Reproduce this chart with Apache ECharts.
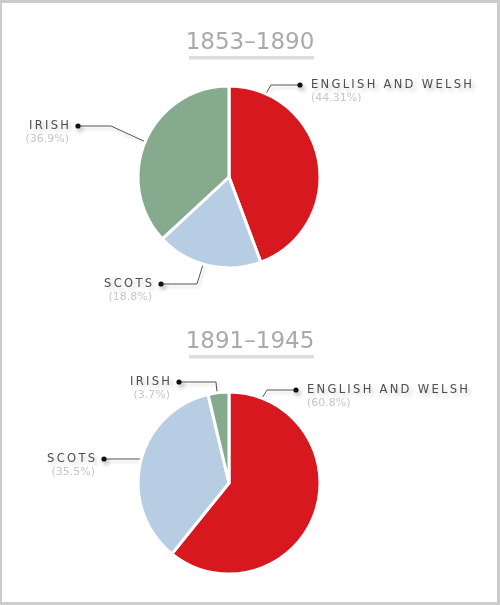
<!DOCTYPE html>
<html>
<head>
<meta charset="utf-8">
<script src="https://cdn.jsdelivr.net/npm/echarts@6/dist/echarts.min.js"></script>
<style>
html,body{margin:0;padding:0;background:#fff;}
#c{width:500px;height:605px;}
</style>
</head>
<body>
<div id="c"></div>
<script>
// ---- data ----
const periods = ['1853\u20131890', '1891\u20131945'];
const groups = ['ENGLISH AND WELSH', 'SCOTS', 'IRISH'];
const shares1853 = [44.31, 18.8, 36.9];
const shares1891 = [60.8, 35.5, 3.7];
const pctLabels1853 = ['(44.31%)', '(18.8%)', '(36.9%)'];
const pctLabels1891 = ['(60.8%)', '(35.5%)', '(3.7%)'];
const colors = ['#d7181f', '#b6cde3', '#86aa8e'];

// ---- label layout (anchor on slice, elbow, dot, side) ----
const labelGeom = [
  [
    { s: [263, 99], e: [271, 85], d: [300, 85], side: 'r' },
    { s: [205, 258], e: [197, 284], d: [161, 284], side: 'l' },
    { s: [148, 143], e: [111, 126], d: [78, 126], side: 'l' }
  ],
  [
    { s: [259, 403], e: [267, 390], d: [296, 390], side: 'r' },
    { s: [150, 459], e: [128, 459], d: [104, 459], side: 'l' },
    { s: [218, 403], e: [216, 382], d: [179, 382], side: 'l' }
  ]
];

const spaced = t => t.split('').join('\u2009');

const chart = echarts.init(document.getElementById('c'), null, { renderer: 'canvas' });

function makeSeries(idx, values, pcts, center) {
  return {
    type: 'pie',
    center: center,
    radius: 91,
    startAngle: 90,
    clockwise: true,
    animation: false,
    silent: true,
    avoidLabelOverlap: false,
    itemStyle: { borderColor: '#fff', borderWidth: 3 },
    data: groups.map((g, i) => ({
      name: g,
      value: values[i],
      pct: pcts[i],
      itemStyle: { color: colors[i] }
    })),
    label: {
      show: true,
      position: 'outside',
      overflow: 'none',
      edgeDistance: 0,
      bleedMargin: 0,
      formatter: p => '{n|' + spaced(p.name) + '}\n{p|' + p.data.pct + '}',
      rich: {
        n: {
          fontFamily: 'DejaVu Sans', fontSize: 11.5, color: '#4d4d4d', lineHeight: 13,
          textShadowColor: 'rgba(0,0,0,0.22)', textShadowBlur: 4, textShadowOffsetX: 3, textShadowOffsetY: 3
        },
        p: { fontFamily: 'DejaVu Sans', fontSize: 11, color: '#c6c6c6', lineHeight: 13 }
      }
    },
    labelLine: {
      show: true,
      lineStyle: {
        color: '#555', width: 1,
        shadowColor: 'rgba(0,0,0,0.18)', shadowBlur: 3, shadowOffsetX: 2, shadowOffsetY: 3
      }
    },
    labelLayout: function (params) {
      const g = labelGeom[idx][params.dataIndex];
      const right = g.side === 'r';
      return {
        x: right ? g.d[0] + 11 : g.d[0] - 9,
        y: g.d[1] - 6.5,
        align: right ? 'left' : 'right',
        verticalAlign: 'top',
        width: 200,
        labelLinePoints: [g.s, g.e, g.d]
      };
    }
  };
}

const dots = [];
labelGeom.forEach(pie => pie.forEach(g => {
  dots.push({
    type: 'circle', silent: true, z: 100,
    shape: { cx: g.d[0], cy: g.d[1], r: 2.6 },
    style: { fill: '#111', shadowColor: 'rgba(0,0,0,0.3)', shadowBlur: 4, shadowOffsetX: 2, shadowOffsetY: 3 }
  });
}));

const titleY = [41, 340];
const titles = periods.map((t, i) => ({
  text: t,
  left: 'center',
  top: titleY[i] - 14,
  textStyle: { fontFamily: 'DejaVu Sans', fontSize: 23, fontWeight: 'normal', color: '#aaaaaa' }
}));

const underlines = titleY.map(y => ({
  type: 'rect', silent: true, z: -5,
  shape: { x: 189, y: y + 15, width: 125, height: 3.5 },
  style: { fill: '#dcdcdc' }
}));

chart.setOption({
  animation: false,
  title: titles,
  graphic: [
    { type: 'rect', silent: true, z: -10, shape: { x: 0, y: 0, width: 500, height: 605 }, style: { fill: '#cccccc' } },
    { type: 'rect', silent: true, z: -9, shape: { x: 2, y: 3, width: 495, height: 599 }, style: { fill: '#ffffff' } }
  ].concat(underlines, dots),
  series: [
    makeSeries(0, shares1853, pctLabels1853, [229, 177]),
    makeSeries(1, shares1891, pctLabels1891, [229, 483])
  ]
});
</script>
</body>
</html>
